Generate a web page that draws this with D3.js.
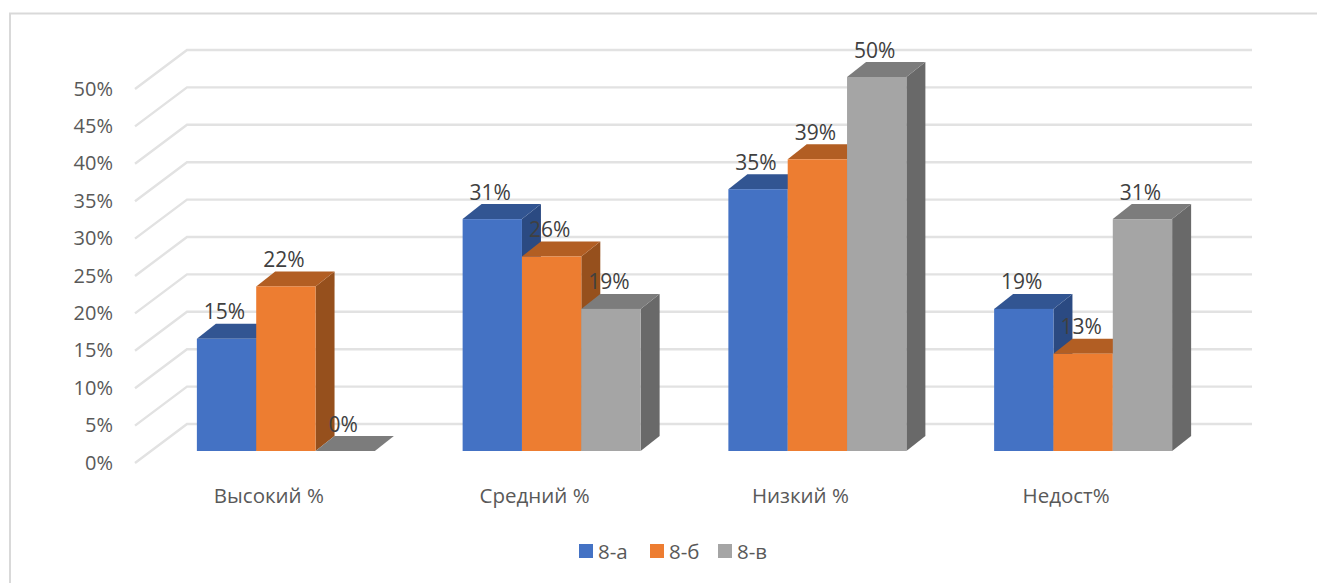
<!DOCTYPE html>
<html>
<head>
<meta charset="utf-8">
<script src="https://cdnjs.cloudflare.com/ajax/libs/d3/7.8.5/d3.min.js"></script>
<style>
  html, body { margin: 0; padding: 0; background: #fff; overflow: hidden; }
  text { font-family: "Open Sans", sans-serif; }
</style>
</head>
<body>
<svg id="chart" width="1317" height="583"></svg>
<script>
// Quality results per class, in percent
const categories = ["Высокий %", "Средний %", "Низкий %", "Недост%"];
const seriesNames = ["8-а", "8-б", "8-в"];
const valuesA = [15, 31, 35, 19];
const valuesB = [22, 26, 39, 13];
const valuesC = [0, 19, 50, 31];
const tickValues = [0, 5, 10, 15, 20, 25, 30, 35, 40, 45, 50];

const seriesValues = [valuesA, valuesB, valuesC];
const frontColors = ["#4472C4", "#ED7D31", "#A5A5A5"];
const topColors = ["#325592", "#B25E23", "#7C7C7C"];
const sideColors = ["#2B4A82", "#96501D", "#696969"];

// Oblique projection of the 3D column chart
const wallDx = 52, wallDy = -39;   // floor edge to back wall
const barDx = 19, barDy = -15;     // column depth
const insetDy = -12;               // columns stand this far into the floor

const svg = d3.select("#chart");
const y = d3.scaleLinear().domain([0, 50]).range([463, 89]);
const x0 = d3.scaleBand().domain(categories).range([153, 1216]).paddingInner(0).paddingOuter(0);
const x1 = d3.scaleBand().domain(seriesNames)
  .range([(x0.bandwidth() - 178) / 2, (x0.bandwidth() + 178) / 2]);

// Chart frame: top and left edges
svg.append("path")
  .attr("d", "M1317,13.5H10V583")
  .attr("fill", "none").attr("stroke", "#D9D9D9").attr("stroke-width", 2);

// Side wall and back wall gridlines
const plotLeft = 135, plotRight = 1252;
svg.append("g").selectAll("path").data(tickValues).join("path")
  .attr("d", v => {
    const p = d3.path();
    p.moveTo(plotLeft, y(v));
    p.lineTo(plotLeft + wallDx, y(v) + wallDy);
    p.lineTo(plotRight, y(v) + wallDy);
    return p.toString();
  })
  .attr("fill", "none").attr("stroke", "#E2E2E2").attr("stroke-width", 2.4);

// Value axis labels
svg.append("g").selectAll("text").data(tickValues).join("text")
  .attr("x", 113).attr("y", v => y(v) - 1)
  .attr("text-anchor", "end").attr("dominant-baseline", "central")
  .attr("font-size", 20).attr("fill", "#595959")
  .text(v => v + "%");

// Category labels
svg.append("g").selectAll("text").data(categories).join("text")
  .attr("x", c => x0(c) + x0.bandwidth() / 2 - 17).attr("y", 495)
  .attr("text-anchor", "middle").attr("dominant-baseline", "central")
  .attr("font-size", 20.5).attr("fill", "#595959")
  .text(c => c);

// Columns, painted left to right so nearer faces overlap correctly
const marks = svg.append("g");
const labels = [];
categories.forEach((cat, ci) => {
  seriesNames.forEach((name, si) => {
    const v = seriesValues[si][ci];
    const left = x0(cat) + x1(name);
    const right = left + x1.bandwidth();
    const base = y(0) + insetDy;
    const top = y(v) + insetDy;
    const g = marks.append("g");
    // right side face
    g.append("path")
      .attr("d", `M${right},${top}L${right + barDx},${top + barDy}L${right + barDx},${base + barDy}L${right},${base}Z`)
      .attr("fill", sideColors[si]);
    // top face
    g.append("path")
      .attr("d", `M${left},${top}L${left + barDx},${top + barDy}L${right + barDx},${top + barDy}L${right},${top}Z`)
      .attr("fill", topColors[si]);
    // front face
    g.append("rect")
      .attr("x", left).attr("y", top)
      .attr("width", x1.bandwidth()).attr("height", base - top)
      .attr("fill", frontColors[si]);
    labels.push({ v, cx: (left + right) / 2 - 2, top });
  });
});

// Data labels
svg.append("g").selectAll("text").data(labels).join("text")
  .attr("x", d => d.cx).attr("y", d => d.top - 27.5)
  .attr("text-anchor", "middle").attr("dominant-baseline", "central")
  .attr("font-size", 21).attr("fill", "#404040")
  .text(d => d.v + "%");

// Legend
const legendX = { "8-а": 579, "8-б": 650, "8-в": 718 };
const legend = svg.append("g").selectAll("g").data(seriesNames).join("g")
  .attr("transform", n => `translate(${legendX[n]},544)`);
legend.append("rect").attr("width", 14).attr("height", 14)
  .attr("fill", (n, i) => frontColors[i]);
legend.append("text").attr("x", 19).attr("y", 7)
  .attr("dominant-baseline", "central")
  .attr("font-size", 20.5).attr("fill", "#595959")
  .text(n => n);
</script>
</body>
</html>
